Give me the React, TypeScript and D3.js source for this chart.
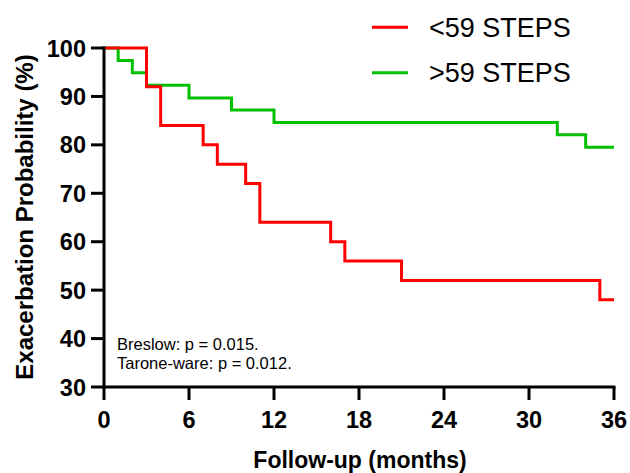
import * as d3 from 'd3';

const redTimes = [0, 3, 4, 7, 8, 10, 11, 16, 17, 21, 35, 36];
const redValues = [100, 92, 84, 80, 76, 72, 64, 60, 56, 52, 48, 48];
const greenTimes = [0, 1, 2, 3, 6, 9, 12, 32, 34, 36];
const greenValues = [100, 97.4, 94.9, 92.3, 89.7, 87.2, 84.6, 82.1, 79.5, 79.5];
const xTicks = [0, 6, 12, 18, 24, 30, 36];
const yTicks = [30, 40, 50, 60, 70, 80, 90, 100];
const legendLabels = ['<59 STEPS', '>59 STEPS'];
const notes = ['Breslow: p = 0.015.', 'Tarone-ware: p = 0.012.'];

const W = 630;
const H = 473;
const font = '"Liberation Sans", Arial, sans-serif';
const RED = '#ff0000';
const GREEN = '#00c000';

export default function App() {
  const x = d3.scaleLinear().domain([0, 36]).range([104, 614]);
  const y = d3.scaleLinear().domain([30, 100]).range([387, 48]);

  // step curve for KM survival
  const path = (times: number[], vals: number[]) =>
    d3.line<[number, number]>()
      .x(d => x(d[0]))
      .y(d => y(d[1]))
      .curve(d3.curveStepAfter)(times.map((t, i) => [t, vals[i]] as [number, number]));

  return (
    <svg width={W} height={H} style={{ position: 'absolute', left: 0, top: 0, background: '#fff' }}>
      <path d={path(greenTimes, greenValues) || ''} fill="none" stroke={GREEN} strokeWidth={3} />
      <path d={path(redTimes, redValues) || ''} fill="none" stroke={RED} strokeWidth={3} />

      {/* y axis */}
      <line x1={x(0)} x2={x(0)} y1={y(100) - 1.5} y2={y(30) + 1.5} stroke="#000" strokeWidth={3} />
      {yTicks.map(t => (
        <g key={t}>
          <line x1={x(0) - 13} x2={x(0)} y1={y(t)} y2={y(t)} stroke="#000" strokeWidth={3} />
          <text x={86} y={y(t) + 8.5} textAnchor="end" fontFamily={font} fontWeight="bold" fontSize={23.5}>{t}</text>
        </g>
      ))}

      {/* x axis */}
      <line x1={x(0) - 1.5} x2={x(36) + 1.5} y1={y(30)} y2={y(30)} stroke="#000" strokeWidth={3} />
      {xTicks.map(t => (
        <g key={t}>
          <line x1={x(t)} x2={x(t)} y1={y(30)} y2={y(30) + 13} stroke="#000" strokeWidth={3} />
          <text x={x(t)} y={428} textAnchor="middle" fontFamily={font} fontWeight="bold" fontSize={23.5}>{t}</text>
        </g>
      ))}

      {/* axis titles */}
      <text x={360} y={468} textAnchor="middle" fontFamily={font} fontWeight="bold" fontSize={23}>Follow-up (months)</text>
      <text transform="translate(33,217) rotate(-90)" textAnchor="middle" fontFamily={font} fontWeight="bold" fontSize={24}>Exacerbation Probability (%)</text>

      {/* legend */}
      {legendLabels.map((l, i) => (
        <g key={l}>
          <line x1={372} x2={408} y1={27.3 + i * 45.4} y2={27.3 + i * 45.4} stroke={i === 0 ? RED : GREEN} strokeWidth={3} />
          <text x={429} y={37 + i * 45.4} fontFamily={font} fontSize={27}>{l}</text>
        </g>
      ))}

      {/* test statistics */}
      {notes.map((n, i) => (
        <text key={n} x={117} y={350 + i * 19} fontFamily={font} fontSize={16.5}>{n}</text>
      ))}
    </svg>
  );
}
